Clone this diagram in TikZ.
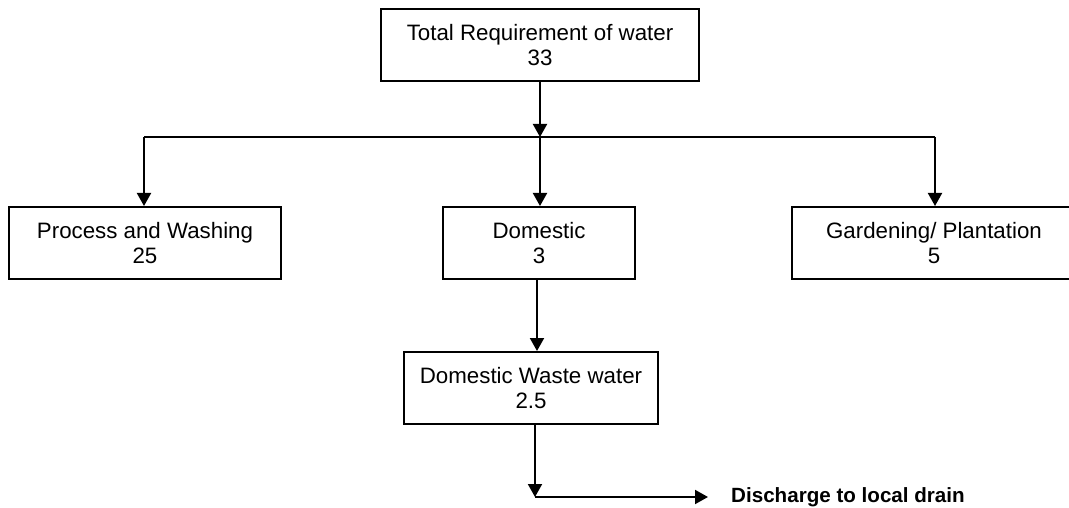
\documentclass[tikz,border=0pt]{standalone}
\usepackage{fontspec}
\setmainfont{Liberation Sans}
\usetikzlibrary{arrows.meta}
\begin{document}
\begin{tikzpicture}[x=1pt,y=-1pt,
  box/.style={draw, line width=2pt, align=center, inner sep=0pt,
    font=\fontsize{22.3}{25.7}\selectfont},
  flow/.style={line width=2pt},
  arr/.style={flow, -{Triangle[length=13pt,width=14pt]}},
  note/.style={font=\fontsize{20.6}{24}\selectfont\bfseries, inner sep=0pt,
    inner xsep=23pt, anchor=west}]
\useasboundingbox (0,0) rectangle (1069,508);

% boxes
\node[box, minimum width=318pt, minimum height=72pt] (total) at (540,45)
  {Total Requirement of water\\33};
\node[box, minimum width=272pt, minimum height=72pt] (proc) at (145,243)
  {Process and Washing\\25};
\node[box, minimum width=192pt, minimum height=72pt] (dom) at (539,243)
  {Domestic\\3};
\node[box, minimum width=284pt, minimum height=72pt] (garden) at (934,243)
  {Gardening/ Plantation\\5};
\node[box, minimum width=254pt, minimum height=72pt] (waste) at (531,388)
  {Domestic Waste water\\2.5};
\node[note] (drain) at (708,497) {Discharge to local drain};

% distribution line
\coordinate (hub) at (540,137);
\coordinate (hl) at (144,137);
\coordinate (hr) at (935,137);
\coordinate (down) at (537,300);
\coordinate (bend) at (535,497);

\draw[arr] (total.south -| hub) -- (hub);
\draw[flow] (hl) -- (hr);
\draw[arr] (hl) -- (hl |- proc.north);
\draw[arr] (hub) -- (hub |- dom.north);
\draw[arr] (hr) -- (hr |- garden.north);

% waste water path
\draw[arr] (dom.south -| down) -- (down |- waste.north);
\draw[arr] (waste.south -| bend) -- (bend);
\draw[arr] (bend) -- (drain.west);
\end{tikzpicture}
\end{document}
